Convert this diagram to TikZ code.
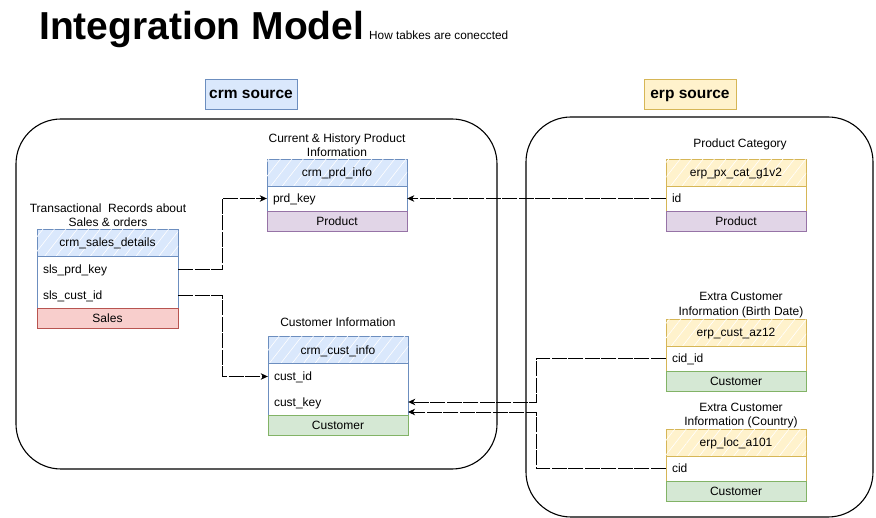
\documentclass[tikz,border=0pt]{standalone}
\usepackage{fontspec}
\setmainfont{Liberation Sans}
\usetikzlibrary{patterns.meta,arrows.meta}
\definecolor{bluefill}{HTML}{DAE8FC}
\definecolor{bluebd}{HTML}{6C8EBF}
\definecolor{yelfill}{HTML}{FFF2CC}
\definecolor{yelbd}{HTML}{D6B656}
\definecolor{purfill}{HTML}{E1D5E7}
\definecolor{purbd}{HTML}{9673A6}
\definecolor{redfill}{HTML}{F8CECC}
\definecolor{redbd}{HTML}{B85450}
\definecolor{grnfill}{HTML}{D5E8D4}
\definecolor{grnbd}{HTML}{82B366}
\tikzset{
  txt/.style={font=\fontsize{12pt}{14.5pt}\selectfont, inner sep=0pt},
  fixh/.style={text height=10.6pt, text depth=2pt},
  hdr/.style 2 args={draw=#2, fill=#1, line width=0.8pt, minimum width=140pt, minimum height=27pt, inner sep=0pt,
     font=\fontsize{12pt}{14pt}\selectfont, fixh,
     postaction={pattern={Lines[angle=52,distance=9pt,line width=0.6pt]}, pattern color=white}},
  body/.style={draw=#1, fill=white, line width=0.8pt, minimum width=140pt, inner sep=0pt},
  rowtxt/.style={minimum height=25pt, inner xsep=6pt, inner ysep=0pt, text width=128pt, align=left,
     font=\fontsize{12pt}{14pt}\selectfont, fixh},
  ftr/.style 2 args={draw=#2, fill=#1, line width=0.8pt, minimum width=140pt, minimum height=20pt, inner sep=0pt,
     font=\fontsize{12pt}{14pt}\selectfont, fixh},
  srcbox/.style 2 args={draw=#2, fill=#1, line width=0.8pt, minimum width=92pt, minimum height=30pt, inner sep=0pt,
     font=\fontsize{15.5pt}{18pt}\selectfont\bfseries, text height=11.5pt, text depth=3pt},
  group/.style={draw=black, line width=1.1pt, rounded corners=45pt},
  link/.style={draw=black, line width=0.9pt, dash pattern=on 15pt off 1.5pt,
     -{Stealth[length=7pt,width=6.5pt,inset=2pt]}},
}
\begin{document}
\begin{tikzpicture}[x=1pt,y=-1pt]
\useasboundingbox (0,0) rectangle (876,518);
% title
\node[anchor=base west, inner sep=0pt, font=\fontsize{39pt}{44pt}\selectfont\bfseries] (title) at (39,40) {Integration Model};
\node[anchor=base west, inner sep=0pt, font=\fontsize{11.8pt}{14pt}\selectfont] (subtitle) at (369,40) {How tabkes are coneccted};
% source labels
\node[srcbox={bluefill}{bluebd}] (crmsrc) at (251,94) {crm source};
\node[srcbox={yelfill}{yelbd}] (erpsrc) at (690,94) {erp source};
% groups
\draw[group] (16,119) rectangle (497,469);
\draw[group] (526,117) rectangle (873,517);

% crm_sales_details
\node[txt, align=center] (sales-lbl) at (108,215) {Transactional\ \ Records about\\Sales \& orders};
\node[hdr={bluefill}{bluebd}, minimum width=141pt] (sales-h) at (107.5,242.5) {crm\_sales\_details};
\node[body=bluebd, minimum width=141pt, minimum height=52pt] (sales-b) at (107.5,282) {};
\node[rowtxt, text width=129pt] (sales-r1) at (107.5,269) {sls\_prd\_key};
\node[rowtxt, text width=129pt] (sales-r2) at (107.5,295) {sls\_cust\_id};
\node[ftr={redfill}{redbd}, minimum width=141pt] (sales-f) at (107.5,318) {Sales};

% crm_prd_info
\node[txt, align=center] (prd-lbl) at (337,145) {Current \& History Product\\Information};
\node[hdr={bluefill}{bluebd}] (prd-h) at (337,172.5) {crm\_prd\_info};
\node[body=bluebd, minimum height=25pt] (prd-b) at (337,198.5) {};
\node[rowtxt] (prd-r1) at (337,198.5) {prd\_key};
\node[ftr={purfill}{purbd}] (prd-f) at (337,221) {Product};

% crm_cust_info
\node[txt, align=center] (cust-lbl) at (338,322.5) {Customer Information};
\node[hdr={bluefill}{bluebd}] (cust-h) at (338,350) {crm\_cust\_info};
\node[body=bluebd, minimum height=53pt] (cust-b) at (338,389.5) {};
\node[rowtxt] (cust-r1) at (338,376.5) {cust\_id};
\node[rowtxt] (cust-r2) at (338,402) {cust\_key};
\node[ftr={grnfill}{grnbd}] (cust-f) at (338,425.5) {Customer};
\coordinate (cust-in2) at (408,412);

% erp_px_cat_g1v2
\node[txt, align=center] (px-lbl) at (740,144.5) {Product Category};
\node[hdr={yelfill}{yelbd}] (px-h) at (736,172.5) {erp\_px\_cat\_g1v2};
\node[body=yelbd, minimum height=25pt] (px-b) at (736,198.5) {};
\node[rowtxt] (px-r1) at (736,198.5) {id};
\node[ftr={purfill}{purbd}] (px-f) at (736,221) {Product};

% erp_cust_az12
\node[txt, align=center] (az-lbl) at (741,305) {Extra Customer\\Information (Birth Date)};
\node[hdr={yelfill}{yelbd}] (az-h) at (736,332.5) {erp\_cust\_az12};
\node[body=yelbd, minimum height=25pt] (az-b) at (736,358.5) {};
\node[rowtxt] (az-r1) at (736,358.5) {cid\_id};
\node[ftr={grnfill}{grnbd}] (az-f) at (736,381) {Customer};

% erp_loc_a101
\node[txt, align=center] (loc-lbl) at (741,415.5) {Extra Customer\\Information (Country)};
\node[hdr={yelfill}{yelbd}] (loc-h) at (736,442.5) {erp\_loc\_a101};
\node[body=yelbd, minimum height=25pt] (loc-b) at (736,468.5) {};
\node[rowtxt] (loc-r1) at (736,468.5) {cid};
\node[ftr={grnfill}{grnbd}] (loc-f) at (736,491) {Customer};

% connectors
\draw[link] (sales-r1.east) -- ++(44,0) |- (prd-r1.west);
\draw[link] (sales-r2.east) -- ++(44,0) |- (cust-r1.west);
\draw[link] (px-r1.west) -- (prd-r1.east);
\draw[link] (az-r1.west) -- ++(-129,0) |- (cust-r2.east);
\draw[link] (loc-r1.west) -- ++(-129,0) |- (cust-in2);
\end{tikzpicture}
\end{document}
